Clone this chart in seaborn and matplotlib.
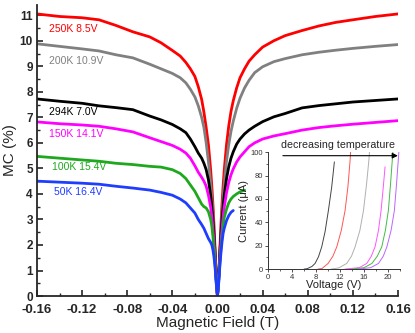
import matplotlib
matplotlib.use('Agg')
import matplotlib.pyplot as plt
import pandas as pd
import seaborn as sns
from matplotlib.ticker import MultipleLocator, FormatStrFormatter

# magnetic field grid for one half of the sweep (T)
field_half = [0.0, 0.001, 0.002, 0.003, 0.004, 0.005, 0.006, 0.008, 0.010, 0.012, 0.014,
              0.017, 0.020, 0.024, 0.028, 0.033, 0.040, 0.050, 0.060, 0.075, 0.090,
              0.105, 0.120, 0.140, 0.160]

# MC (%), negative side (at -B) and positive side (at +B)
mc_250_left = [0, .66, 1.72, 2.72, 3.58, 4.31, 4.93, 5.92, 6.6, 7.2, 7.7, 8.2, 8.6, 8.9, 9.15,
               9.4, 9.62, 9.92, 10.15, 10.35, 10.6, 10.82, 10.9, 10.95, 11.05]
mc_250_right = [0, .66, 1.72, 2.72, 3.58, 4.31, 4.93, 5.92, 6.66, 7.23, 7.65, 8.15, 8.55, 8.9, 9.2,
                9.45, 9.75, 10.0, 10.2, 10.4, 10.58, 10.72, 10.82, 10.95, 11.05]
mc_200_left = [0, .59, 1.53, 2.42, 3.19, 3.84, 4.39, 5.27, 6.0, 6.6, 7.0, 7.45, 7.8, 8.1, 8.35,
               8.55, 8.72, 8.9, 9.08, 9.33, 9.45, 9.6, 9.68, 9.78, 9.88]
mc_200_right = [0, .59, 1.53, 2.42, 3.19, 3.84, 4.39, 5.27, 5.93, 6.45, 6.85, 7.35, 7.75, 8.15, 8.45,
                8.75, 8.98, 9.18, 9.3, 9.45, 9.55, 9.63, 9.7, 9.78, 9.85]
mc_294_left = [0, .64, 1.56, 2.35, 2.99, 3.51, 3.94, 4.55, 4.95, 5.2, 5.4, 5.6, 5.85, 6.15, 6.4,
               6.55, 6.72, 6.9, 7.05, 7.3, 7.38, 7.45, 7.55, 7.63, 7.72]
mc_294_right = [0, .64, 1.56, 2.35, 2.99, 3.51, 3.94, 4.59, 5.06, 5.4, 5.65, 5.95, 6.15, 6.35, 6.5,
                6.65, 6.83, 7.02, 7.15, 7.37, 7.46, 7.53, 7.6, 7.66, 7.72]
mc_150_left = [0, .56, 1.37, 2.07, 2.63, 3.09, 3.47, 3.95, 4.3, 4.5, 4.65, 4.85, 5.1, 5.4, 5.6,
               5.75, 5.9, 6.05, 6.2, 6.43, 6.55, 6.65, 6.7, 6.75, 6.82]
mc_150_right = [0, .56, 1.37, 2.07, 2.63, 3.09, 3.47, 4.04, 4.45, 4.75, 4.98, 5.25, 5.45, 5.65, 5.85,
                6.0, 6.15, 6.27, 6.36, 6.5, 6.6, 6.67, 6.73, 6.8, 6.87]
mc_100_left = [0, .5, 1.22, 1.83, 2.33, 2.74, 3.0, 3.3, 3.45, 3.5, 3.6, 3.85, 4.1, 4.35, 4.6,
               4.8, 4.95, 5.05, 5.08, 5.15, 5.2, 5.28, 5.33, 5.4, 5.47]
mc_100_right = [0, .5, 1.22, 1.83, 2.33, 2.74, 3.07, 3.4, 3.65, 3.8, 3.9, 4.0, 4.08, 4.15]
mc_50_left = [0, .45, 1.05, 1.5, 1.8, 2.0, 2.1, 2.25, 2.45, 2.65, 2.8, 3.0, 3.25, 3.45, 3.65,
              3.8, 3.95, 4.06, 4.15, 4.23, 4.3, 4.38, 4.42, 4.46, 4.5]
mc_50_right = [0, .45, 1.1, 1.65, 2.1, 2.45, 2.65, 2.95, 3.15, 3.28, 3.35]

labels = ['250K 8.5V', '200K 10.9V', '294K 7.0V', '150K 14.1V', '100K 15.4V', '50K 16.4V']
colors = ['#ff0000', '#808080', '#000000', '#ff00ff', '#1ea81e', '#1f3dff']
label_pos = [(-0.149, 10.47), (-0.149, 9.2), (-0.149, 7.2), (-0.149, 6.35), (-0.147, 5.06), (-0.145, 4.08)]

# inset I-V curves
v_black = [6.0, 6.5, 7.3, 7.83, 8.4, 8.94, 9.5, 10.05, 10.6, 11.05]
i_black = [0, 0.3, 2.2, 4.8, 10.5, 19, 32, 50, 70, 91.7]
v_red = [8.3, 9.0, 10.0, 10.8, 11.45, 12.2, 12.83, 13.3, 13.67, 13.75]
i_red = [0, 0.5, 4.8, 11, 19, 33, 50, 70, 93, 100]
v_grey = [10.5, 11.8, 13.1, 13.9, 14.5, 15.3, 15.9, 16.4, 16.8, 16.9]
i_grey = [0, 1, 4.8, 11, 19, 33, 50, 72, 93, 100]
v_mag = [12.8, 15.2, 16.45, 17.2, 17.83, 18.4, 18.83, 19.2, 19.5]
i_mag = [0, 1.2, 4.8, 11, 19, 33, 50, 70, 87.5]
v_green = [14.0, 16.0, 17.3, 18.2, 18.95, 19.55, 20.05, 20.4, 20.7, 20.8]
i_green = [0, 1.2, 4.8, 11, 19, 33, 50, 72, 93, 100]
v_violet = [15.0, 17.1, 18.4, 19.2, 19.8, 20.5, 21.05, 21.4, 21.7, 21.8]
i_violet = [0, 1.2, 4.8, 11, 19, 33, 50, 72, 93, 100]
inset_colors = ['#444444', '#ff5555', '#b0b0b0', '#ff55ff', '#44bb44', '#bb66ff']

sns.set_style('ticks')
plt.rcParams['font.family'] = ['Liberation Sans', 'DejaVu Sans']
plt.rcParams['axes.unicode_minus'] = False

fig = plt.figure(figsize=(4.15, 3.33), dpi=100)
ax = fig.add_axes([0.089, 0.111, 0.870, 0.874])

curves = [(mc_250_left, mc_250_right), (mc_200_left, mc_200_right), (mc_294_left, mc_294_right),
          (mc_150_left, mc_150_right), (mc_100_left, mc_100_right), (mc_50_left, mc_50_right)]
for k, (left, right) in enumerate(curves):
    x = [-b for b in field_half[::-1]] + field_half[1:len(right)]
    y = left[::-1] + right[1:]
    df = pd.DataFrame({'B': x, 'MC': y})
    sns.lineplot(data=df, x='B', y='MC', ax=ax, color=colors[k], lw=2.0,
                 sort=False, estimator=None)
    ax.text(label_pos[k][0], label_pos[k][1], labels[k], color=colors[k],
            fontsize=7.5, va='center', ha='left')

ax.set_xlim(-0.16, 0.16)
ax.set_ylim(0, 11.4)
ax.xaxis.set_major_locator(MultipleLocator(0.04))
ax.xaxis.set_minor_locator(MultipleLocator(0.02))
ax.xaxis.set_major_formatter(FormatStrFormatter('%.2f'))
ax.yaxis.set_major_locator(MultipleLocator(1))
ax.yaxis.set_minor_locator(MultipleLocator(0.5))
ax.tick_params(which='major', direction='in', length=4, width=1.2)
ax.tick_params(which='minor', direction='in', length=2, width=1.0)
ax.tick_params(axis='x', labelsize=9.5, pad=6)
ax.tick_params(axis='y', labelsize=8.5, pad=3)
for t in ax.get_xticklabels() + ax.get_yticklabels():
    t.set_fontweight('bold')
for s in ['left', 'bottom']:
    ax.spines[s].set_linewidth(1.3)
sns.despine(ax=ax)
ax.set_xlabel('Magnetic Field (T)', fontsize=11, labelpad=0)
ax.set_ylabel('MC (%)', fontsize=11, labelpad=2)

# inset
axi = fig.add_axes([0.646, 0.192, 0.318, 0.351])
inset = [(v_black, i_black), (v_red, i_red), (v_grey, i_grey),
         (v_mag, i_mag), (v_green, i_green), (v_violet, i_violet)]
for (v, i), c in zip(inset, inset_colors):
    sns.lineplot(x=v, y=i, ax=axi, color=c, lw=0.7, sort=False, estimator=None)
axi.set_xlim(0, 22)
axi.set_ylim(0, 100)
axi.patch.set_alpha(0)
axi.xaxis.set_major_locator(MultipleLocator(4))
axi.xaxis.set_minor_locator(MultipleLocator(2))
axi.yaxis.set_major_locator(MultipleLocator(20))
axi.yaxis.set_minor_locator(MultipleLocator(10))
axi.tick_params(which='major', direction='out', length=2.5, width=0.6, labelsize=5.5,
                colors='#333333', pad=1)
axi.tick_params(which='minor', direction='out', length=1.5, width=0.5)
for s in ['left', 'bottom']:
    axi.spines[s].set_linewidth(0.7)
    axi.spines[s].set_color('#333333')
sns.despine(ax=axi)
axi.set_xlabel('Voltage (V)', fontsize=8, labelpad=-1, color='#222222')
axi.set_ylabel('Current (μA)', fontsize=8, labelpad=1, color='#222222')
axi.annotate('', xy=(22.1, 97), xytext=(2, 97), xycoords='data', annotation_clip=False,
             arrowprops=dict(arrowstyle='-|>', color='black', lw=0.8, mutation_scale=8))
axi.text(2.1, 102, 'decreasing temperature', fontsize=7.7, ha='left', va='bottom')

fig.savefig('out.png', dpi=100)
